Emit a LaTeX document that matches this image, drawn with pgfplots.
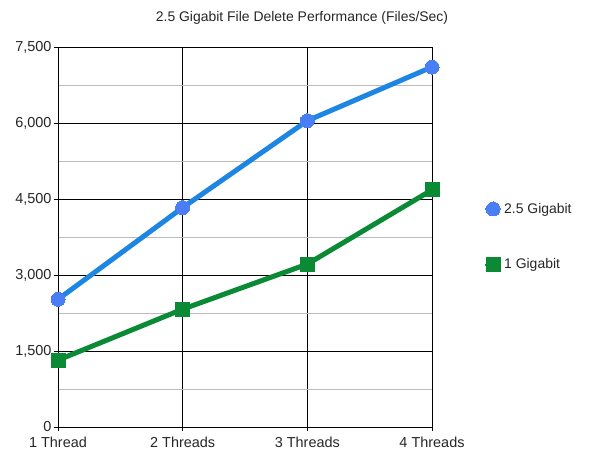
\documentclass[border=0pt]{standalone}
\usepackage{fontspec}
\setmainfont{Liberation Sans}
\usepackage{pgfplots}
\pgfplotsset{compat=1.18}

\definecolor{blueline}{HTML}{1C86E2}
\definecolor{bluemark}{HTML}{4A7EF5}
\definecolor{greenline}{HTML}{0B8A36}
\definecolor{minorgrid}{HTML}{BBBBBB}

\begin{document}
\begin{tikzpicture}[x=1bp,y=1bp]
  \useasboundingbox (0,0) rectangle (600,463);
  \node[font=\fontsize{14}{16}\selectfont, text=black!85] at (302,445) {2.5 Gigabit File Delete Performance (Files/Sec)};
  \begin{axis}[
      at={(58bp,36bp)}, anchor=south west,
      scale only axis,
      width=374bp, height=380bp,
      xmin=0, xmax=3, ymin=0, ymax=7500,
      xtick={0,1,2,3},
      xticklabels={1 Thread, 2 Threads, 3 Threads, 4 Threads},
      ytick={0,1500,3000,4500,6000,7500},
      minor ytick={750,2250,3750,5250,6750},
      /pgf/number format/fixed,
      /pgf/number format/1000 sep={,},
      /pgf/number format/assume math mode=true,
      ticklabel style={font=\fontsize{14.5}{16}\selectfont, text=black!85},
      grid=both,
      major grid style={black, line width=0.8pt},
      minor grid style={minorgrid, line width=0.8pt},
      axis line style={black, line width=0.8pt},
      axis lines*=left,
      tick align=outside,
      major tick length=4bp,
      minor tick length=0pt,
      tick style={black, line width=0.8pt},
      x tick label style={yshift=-3bp},
      y tick label style={xshift=1bp},
      clip=false,
      legend style={at={(1.131,0.60)}, anchor=north west, draw=none, fill=none,
        font=\fontsize{14}{16}\selectfont, text=black!85,
        row sep=40bp, cells={anchor=west}},
      legend image code/.code={
        \draw[#1, line width=2bp] (-8bp,0) -- (8bp,0);
        \draw[#1, mark repeat=1] plot coordinates {(0,0)};
      },
    ]
    \addplot[blueline, line width=5bp, mark=*, mark size=7bp,
      mark options={solid, draw=bluemark, fill=bluemark, line width=0pt}]
      coordinates {(0,2520) (1,4330) (2,6045) (3,7105)};
    \addlegendentry{2.5 Gigabit}
    \addplot[greenline, line width=5bp, mark=square*, mark size=7bp,
      mark options={solid, draw=greenline, fill=greenline, line width=0pt}]
      coordinates {(0,1320) (1,2325) (2,3215) (3,4680)};
    \addlegendentry{1 Gigabit}
  \end{axis}
\end{tikzpicture}
\end{document}
